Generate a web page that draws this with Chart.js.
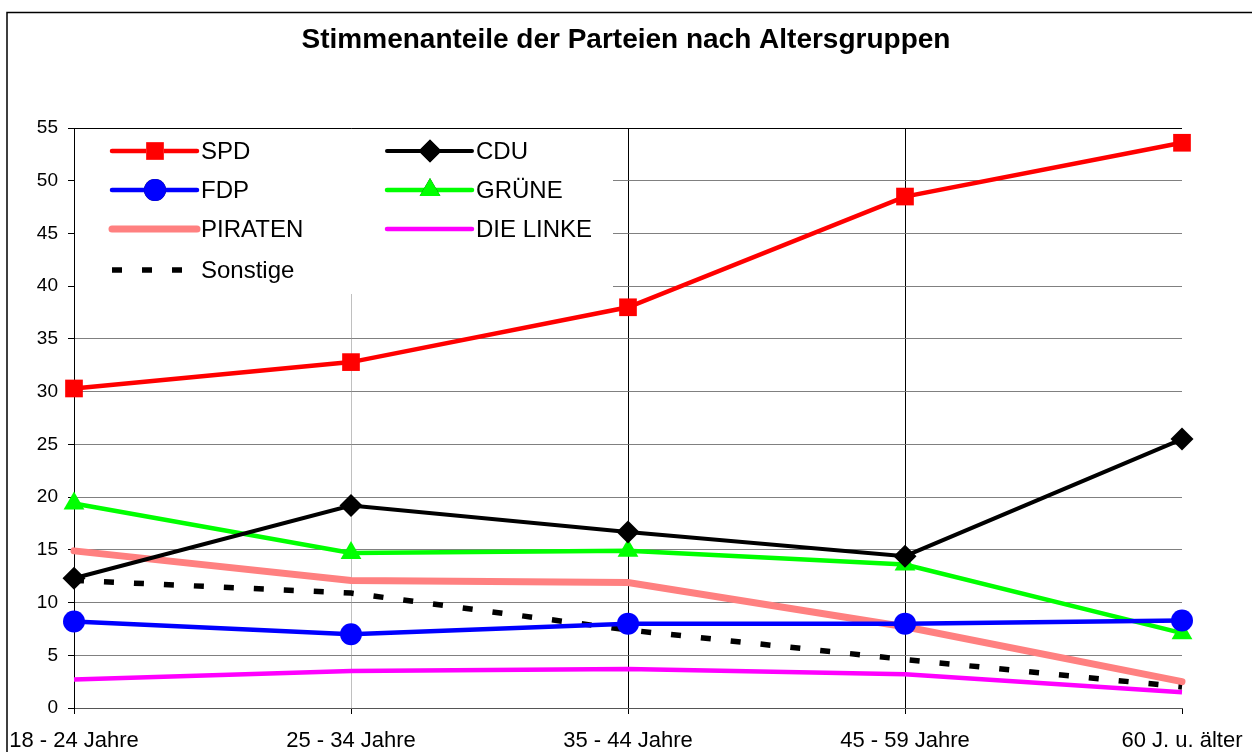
<!DOCTYPE html>
<html>
<head>
<meta charset="utf-8">
<script src="https://cdn.jsdelivr.net/npm/chart.js@4"></script>
<style>
  html, body { margin: 0; padding: 0; background: #fff; }
  #wrap { width: 1252px; height: 752px; }
</style>
</head>
<body>
<div id="wrap"><canvas id="chart" width="1252" height="752"></canvas></div>
<script>
// Daten
const altersgruppen = ['18 - 24 Jahre', '25 - 34 Jahre', '35 - 44 Jahre', '45 - 59 Jahre', '60 J. u. älter'];
const spd      = [30.3, 32.8, 38.0, 48.5, 53.6];
const cdu      = [12.3, 19.2, 16.7, 14.4, 25.5];
const fdp      = [8.2, 7.0, 8.0, 8.0, 8.3];
const gruene   = [19.4, 14.7, 14.9, 13.6, 7.1];
const piraten  = [14.9, 12.1, 11.9, 7.7, 2.5];
const linke    = [2.7, 3.5, 3.7, 3.2, 1.5];
const sonstige = [12.1, 10.9, 7.4, 4.6, 2.0];
const titel = 'Stimmenanteile der Parteien nach Altersgruppen';

const FONT = "'Liberation Sans', Arial, sans-serif";

// Rahmen + Titel
const rahmenPlugin = {
    id: 'rahmen',
    beforeDraw(chart) {
        const ctx = chart.ctx;
        ctx.save();
        ctx.fillStyle = '#fff';
        ctx.fillRect(0, 0, chart.width, chart.height);
        ctx.strokeStyle = '#000';
        ctx.lineWidth = 1.5;
        ctx.strokeRect(7, 12.5, chart.width + 20, chart.height + 20);
        ctx.fillStyle = '#000';
        ctx.font = 'bold 28px ' + FONT;
        ctx.textAlign = 'center';
        ctx.textBaseline = 'middle';
        ctx.fillText(titel, 626, 40);
        ctx.restore();
    }
};

// Legende im Diagramm (zwei Spalten, weißer Hintergrund)
const legendePlugin = {
    id: 'legende',
    beforeDatasetsDraw(chart) {
        const ctx = chart.ctx;
        const area = chart.chartArea;
        ctx.save();
        ctx.fillStyle = '#fff';
        ctx.fillRect(area.left + 1, area.top + 1, 612 - area.left, 293 - area.top);
        const spalten = [112, 387];
        const zeilen = [151, 190, 229, 270];
        ctx.font = '24px ' + FONT;
        ctx.textBaseline = 'middle';
        chart.data.datasets.forEach((ds, i) => {
            const x = spalten[i % 2];
            const y = zeilen[Math.floor(i / 2)];
            ctx.save();
            ctx.strokeStyle = ds.borderColor;
            ctx.lineWidth = ds.borderWidth;
            ctx.lineCap = ds.borderDash ? 'butt' : 'round';
            ctx.setLineDash(ds.borderDash || []);
            ctx.beginPath();
            ctx.moveTo(x, y);
            ctx.lineTo(x + 85, y);
            ctx.stroke();
            ctx.restore();
            if (ds.pointRadius > 0) {
                Chart.helpers.drawPoint(ctx, {
                    pointStyle: ds.pointStyle,
                    radius: ds.pointRadius,
                    borderWidth: 0
                }, x + 43, y);
                ctx.fillStyle = ds.pointBackgroundColor;
                ctx.fill();
            }
            ctx.fillStyle = '#000';
            ctx.fillText(ds.label, x + 89, y + 1);
        });
        ctx.restore();
    }
};

function serie(label, data, farbe, breite, punkt, radius, extra) {
    return Object.assign({
        label: label,
        data: data,
        borderColor: farbe,
        backgroundColor: farbe,
        borderWidth: breite,
        pointStyle: punkt || 'circle',
        pointRadius: radius || 0,
        pointHoverRadius: radius || 0,
        pointBackgroundColor: farbe,
        pointBorderColor: farbe,
        pointBorderWidth: 0,
        tension: 0,
        clip: false
    }, extra || {});
}

const datensaetze = [
    serie('SPD', spd, '#ff0000', 4.5, 'rect', 12.5),
    serie('CDU', cdu, '#000000', 4, 'rectRot', 11.5),
    serie('FDP', fdp, '#0000ff', 4.5, 'circle', 11),
    serie('GRÜNE', gruene, '#00ff00', 4.5, 'triangle', 12),
    serie('PIRATEN', piraten, '#ff8080', 7, false, 0, { borderCapStyle: 'round' }),
    serie('DIE LINKE', linke, '#ff00ff', 4.5),
    serie('Sonstige', sonstige, '#000000', 5.5, false, 0, { borderDash: [10, 20], borderCapStyle: 'butt' })
];

const xGitter = ['#000000', '#c0c0c0', '#000000', '#000000', 'rgba(0,0,0,0)'];

new Chart(document.getElementById('chart').getContext('2d'), {
    type: 'line',
    data: { labels: altersgruppen, datasets: datensaetze },
    options: {
        responsive: false,
        animation: false,
        events: [],
        layout: { padding: { top: 128, right: 70, bottom: 0, left: 0 } },
        plugins: {
            legend: { display: false },
            title: { display: false },
            tooltip: { enabled: false }
        },
        scales: {
            x: {
                offset: false,
                grid: {
                    color: (c) => xGitter[c.index] || '#000',
                    tickColor: '#000',
                    tickLength: 6,
                    lineWidth: 1
                },
                border: { color: '#555', width: 1 },
                ticks: {
                    color: '#000',
                    font: { family: FONT, size: 22 },
                    padding: 14,
                    maxRotation: 0,
                    autoSkip: false
                },
                afterFit(scale) {
                    scale.height = 44;
                    scale.paddingLeft = 0;
                    scale.paddingRight = 0;
                }
            },
            y: {
                min: 0,
                max: 55,
                ticks: {
                    stepSize: 5,
                    color: '#000',
                    font: { family: FONT, size: 19 },
                    padding: 10
                },
                grid: {
                    color: (c) => c.tick && c.tick.value === 55 ? '#000' : '#808080',
                    tickColor: '#000',
                    tickLength: 6,
                    lineWidth: 1
                },
                border: { color: '#000', width: 1 },
                afterFit(scale) { scale.width = 74; }
            }
        }
    },
    plugins: [rahmenPlugin, legendePlugin]
});
</script>
</body>
</html>
